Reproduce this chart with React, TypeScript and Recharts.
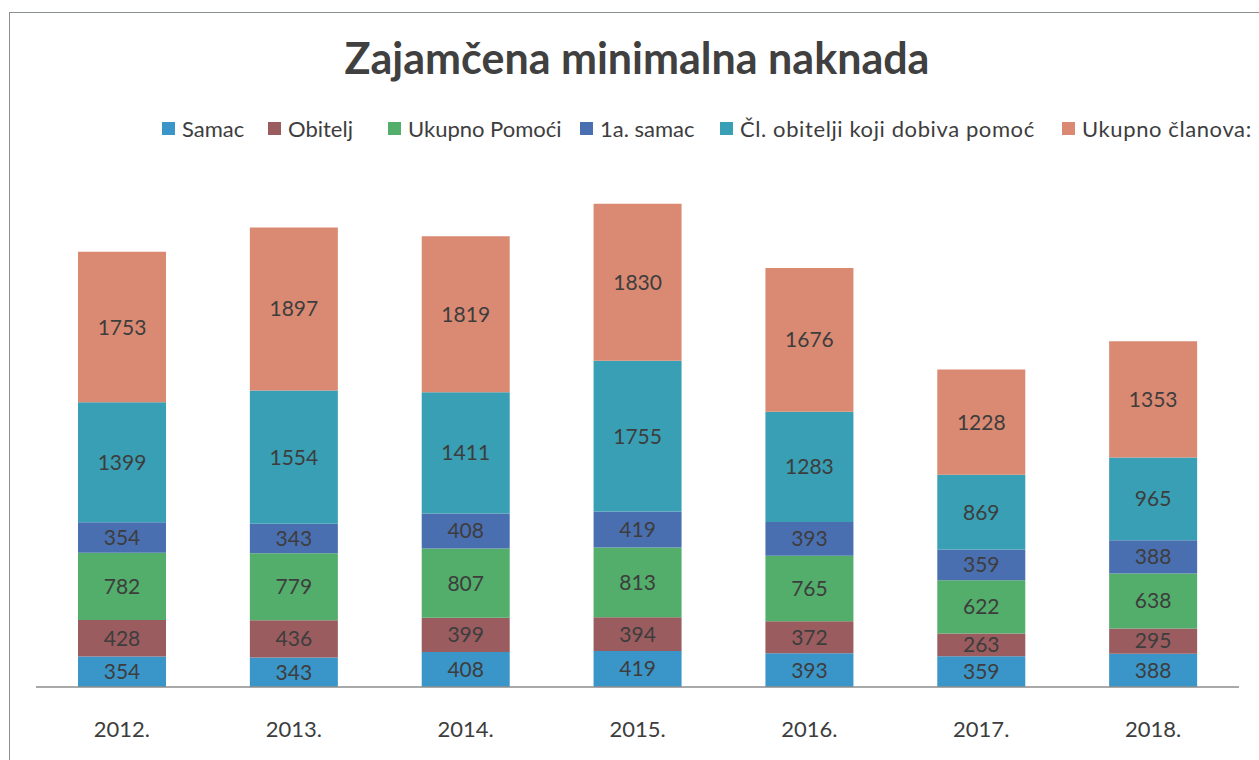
import React from "react";
import { BarChart, Bar, XAxis, YAxis, LabelList } from "recharts";

const years = ["2012.", "2013.", "2014.", "2015.", "2016.", "2017.", "2018."];
const samac = [354, 343, 408, 419, 393, 359, 388];
const obitelj = [428, 436, 399, 394, 372, 263, 295];
const ukupnoPomoci = [782, 779, 807, 813, 765, 622, 638];
const samac1a = [354, 343, 408, 419, 393, 359, 388];
const clanovi = [1399, 1554, 1411, 1755, 1283, 869, 965];
const ukupnoClanova = [1753, 1897, 1819, 1830, 1676, 1228, 1353];

const seriesNames = [
  "Samac",
  "Obitelj",
  "Ukupno Pomoći",
  "1a. samac",
  "Čl. obitelji koji dobiva pomoć",
  "Ukupno članova:",
];
const seriesColors = ["#3a95c8", "#9a5c5e", "#52ae6a", "#4a6fb0", "#389fb4", "#da8a72"];
const seriesKeys = ["samac", "obitelj", "ukupnoPomoci", "samac1a", "clanovi", "ukupnoClanova"];
const legendX = [162, 268, 388, 580, 720, 1062];

const data = years.map((y, i) => ({
  year: y,
  samac: samac[i],
  obitelj: obitelj[i],
  ukupnoPomoci: ukupnoPomoci[i],
  samac1a: samac1a[i],
  clanovi: clanovi[i],
  ukupnoClanova: ukupnoClanova[i],
}));

const FONT = "Lato, 'Open Sans', sans-serif";
const TEXT = "#3d3d3d";

export default function App() {
  return (
    <div style={{ position: "absolute", left: 0, top: 0, width: 1259, height: 760, background: "#fff", overflow: "hidden" }}>
      <div
        style={{
          position: "absolute",
          left: 9,
          top: 12,
          width: 1260,
          height: 760,
          borderTop: "1.5px solid #8a9090",
          borderLeft: "1.5px solid #8a9090",
        }}
      />
      <div
        style={{
          position: "absolute",
          left: 0,
          top: 32,
          width: 1274,
          textAlign: "center",
          fontFamily: FONT,
          fontWeight: 700,
          fontSize: 43,
          color: "#404040",
          lineHeight: "52px",
        }}
      >
        Zajamčena minimalna naknada
      </div>
      {seriesNames.map((n, i) => (
        <div
          key={n}
          style={{
            position: "absolute",
            left: legendX[i],
            top: 114,
            height: 28,
            display: "flex",
            alignItems: "center",
            fontFamily: FONT,
            fontSize: 22,
            letterSpacing: i >= 4 ? 0.6 : 0,
            color: TEXT,
            whiteSpace: "nowrap",
          }}
        >
          <span
            style={{
              display: "inline-block",
              width: 13,
              height: 13,
              background: seriesColors[i],
              marginRight: 7,
            }}
          />
          <span>{n}</span>
        </div>
      ))}
      <div style={{ position: "absolute", left: 0, top: 0 }}>
        <BarChart
          width={1259}
          height={760}
          data={data}
          margin={{ top: 172, right: 20, bottom: 23, left: 36 }}
          barSize={88}
        >
          <XAxis
            dataKey="year"
            height={50}
            tickLine={false}
            tickSize={0}
            tickMargin={34}
            axisLine={{ stroke: "#8c8c8c", strokeWidth: 1.5 }}
            tick={{ fill: TEXT, fontSize: 22, fontFamily: FONT }}
          />
          <YAxis hide domain={[0, 6000]} />
          {seriesKeys.map((k, i) => (
            <Bar
              key={k}
              dataKey={k}
              name={seriesNames[i]}
              stackId="a"
              fill={seriesColors[i]}
              isAnimationActive={false}
            >
              <LabelList
                dataKey={k}
                position="center"
                fill={TEXT}
                style={{ fontSize: 21, fontFamily: FONT }}
              />
            </Bar>
          ))}
        </BarChart>
      </div>
    </div>
  );
}
